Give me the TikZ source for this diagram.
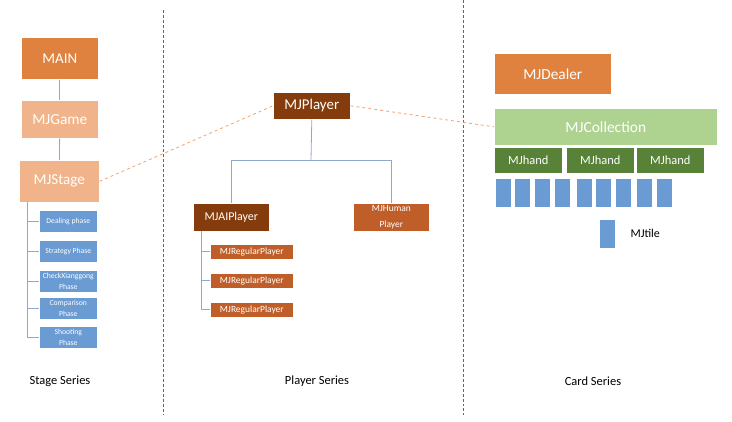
\documentclass[tikz,border=0pt]{standalone}
\usepackage{fontspec}
\setmainfont{Carlito}
\begin{document}
\begin{tikzpicture}[x=1bp,y=-1bp,
  box/.style={draw=white,line width=0.6bp,inner sep=0pt,text=white,align=center,anchor=north west},
  tree/.style={draw=treeblue,line width=0.8bp},
  link/.style={draw=linkorange,dashed,line width=0.8bp},
  sep/.style={draw=gray!80!black,densely dashed,line width=0.8bp},
  lab/.style={font=\fontsize{12.5}{15}\selectfont,text=black}]
\definecolor{mainor}{HTML}{E0823F}
\definecolor{lightor}{HTML}{F1B48A}
\definecolor{darkbr}{HTML}{843C0C}
\definecolor{midbr}{HTML}{BF5E28}
\definecolor{phase}{HTML}{6A9BD3}
\definecolor{treeblue}{HTML}{8FA8CC}
\definecolor{linkorange}{HTML}{EFA272}
\definecolor{collg}{HTML}{AED390}
\definecolor{handg}{HTML}{588237}
\definecolor{tileb}{HTML}{6B9BD3}
\useasboundingbox (0,0) rectangle (732,421);
% separators
\coordinate (s1t) at (163,10); \coordinate (s1b) at (163,415);
\coordinate (s2t) at (463,0); \coordinate (s2b) at (463,415);
\draw[sep] (s1t) -- (s1b);
\draw[sep] (s2t) -- (s2b);
% stage series
\node[box,fill=mainor,minimum width=77bp,minimum height=42bp,font=\fontsize{15}{18}\selectfont] (main) at (21,37) {MAIN};
\node[box,fill=lightor,minimum width=77bp,minimum height=38bp,font=\fontsize{15.4}{18}\selectfont] (game) at (21,100) {MJGame};
\node[box,fill=lightor,minimum width=80bp,minimum height=42bp,font=\fontsize{15.2}{18}\selectfont] (stage) at (19,160) {MJStage};
\draw[tree] (main) -- (game);
\draw[tree] (game) -- (stage);
\tikzset{ph/.style={box,fill=phase,minimum width=58bp,minimum height=22bp,font=\fontsize{7.7}{11.5}\selectfont}}
\node[ph] (p1) at (39,210) {Dealing phase};
\node[ph] (p2) at (39,240) {Strategy Phase};
\node[ph] (p3) at (39,270) {CheckXianggong\\Phase};
\node[ph] (p4) at (39,297) {Comparison\\Phase};
\node[ph] (p5) at (39,326) {Shooting\\Phase};
\coordinate (st) at (27,202);
\draw[tree] (st) |- (p5.west);
\foreach \p in {p1,p2,p3,p4} \draw[tree] (st |- \p.west) -- (\p.west);
\node[lab] (l1) at (60,381) {Stage Series};
% player series
\node[box,fill=darkbr,minimum width=77bp,minimum height=27bp,font=\fontsize{15}{18}\selectfont] (player) at (273,92) {MJPlayer};
\node[box,fill=darkbr,minimum width=76bp,minimum height=28bp,font=\fontsize{12}{14}\selectfont] (ai) at (193,203) {MJAIPlayer};
\node[box,fill=midbr,minimum width=76bp,minimum height=28bp,font=\fontsize{9.5}{15.5}\selectfont] (human) at (353,203) {MJHuman\\Player};
\coordinate (pj) at (311,160);
\draw[tree] (player.south) -- (pj);
\draw[tree] (pj) -| (ai.north);
\draw[tree] (pj) -| (human.north);
\tikzset{rp/.style={box,fill=midbr,minimum width=83bp,minimum height=15bp,font=\fontsize{9.5}{11}\selectfont}}
\node[rp] (r1) at (210,244) {MJRegularPlayer};
\node[rp] (r2) at (210,273) {MJRegularPlayer};
\node[rp] (r3) at (210,302) {MJRegularPlayer};
\coordinate (at) at (201,231);
\draw[tree] (at) |- (r3.west);
\foreach \r in {r1,r2} \draw[tree] (at |- \r.west) -- (\r.west);
\node[lab] (l2) at (317,381) {Player Series};
% card series
\node[box,fill=mainor,minimum width=117bp,minimum height=41bp,font=\fontsize{15.4}{18}\selectfont] (dealer) at (494,53) {MJDealer};
\node[box,fill=collg,minimum width=223bp,minimum height=37bp,font=\fontsize{15.5}{18}\selectfont] (coll) at (494,108) {MJCollection};
\tikzset{hand/.style={box,fill=handg,minimum width=68bp,minimum height=26bp,font=\fontsize{12.5}{15}\selectfont}}
\node[hand] (h1) at (494,147) {MJhand};
\node[hand] (h2) at (566,147) {MJhand};
\node[hand] (h3) at (636,147) {MJhand};
\tikzset{tile/.style={box,fill=tileb,minimum width=16bp,minimum height=29bp}}
\foreach \x [count=\i] in {495,514,534,554,576,595,615,636,656}
  \node[tile] (t\i) at (\x,178) {};
\node[tile] (tile) at (599,219) {};
\node[lab,anchor=west,font=\fontsize{12}{14}\selectfont] (tl) at (627,233) {MJtile};
\node[lab] (l3) at (593,381) {Card Series};
% dashed links
\draw[link] (stage.east) -- (player.west);
\draw[link] (player.east) -- (coll.west);
\end{tikzpicture}
\end{document}
